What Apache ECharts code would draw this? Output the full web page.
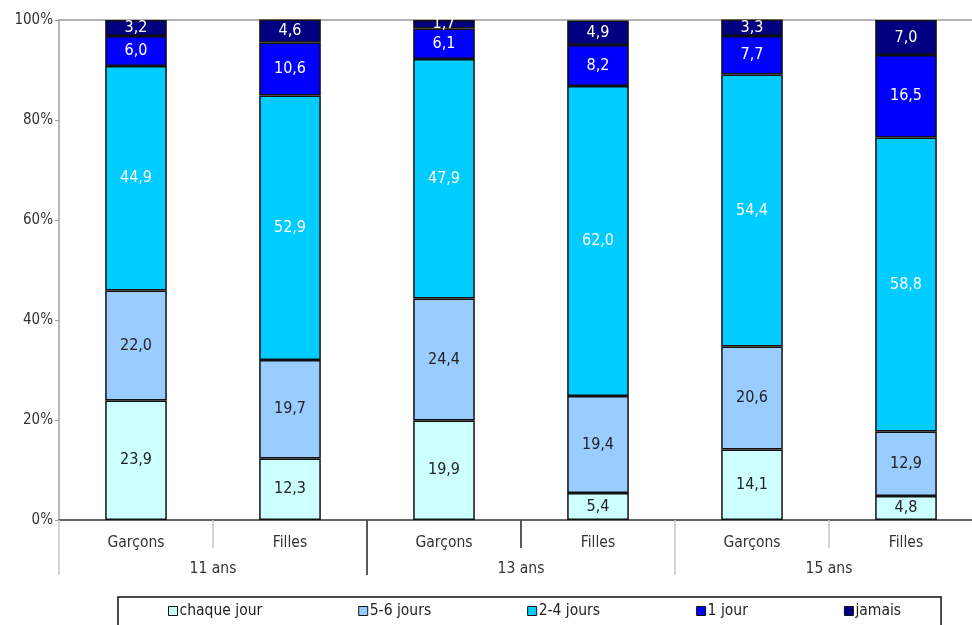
<!DOCTYPE html>
<html>
<head>
<meta charset="utf-8">
<script src="https://cdn.jsdelivr.net/npm/echarts@6/dist/echarts.min.js"></script>
<style>
  html, body { margin: 0; padding: 0; background: #fff; }
  #chart { width: 972px; height: 625px; }
</style>
</head>
<body>
<div id="chart"></div>
<script>
// ---- Data ----
const categories = ['Garçons', 'Filles', 'Garçons', 'Filles', 'Garçons', 'Filles'];
const groups = ['11 ans', '13 ans', '15 ans'];
const seriesNames = ['chaque jour', '5-6 jours', '2-4 jours', '1 jour', 'jamais'];
const chaqueJour = [23.9, 12.3, 19.9, 5.4, 14.1, 4.8];
const cinqSixJours = [22.0, 19.7, 24.4, 19.4, 20.6, 12.9];
const deuxQuatreJours = [44.9, 52.9, 47.9, 62.0, 54.4, 58.8];
const unJour = [6.0, 10.6, 6.1, 8.2, 7.7, 16.5];
const jamais = [3.2, 4.6, 1.7, 4.9, 3.3, 7.0];
const yTicks = [0, 20, 40, 60, 80, 100];

const values = [chaqueJour, cinqSixJours, deuxQuatreJours, unJour, jamais];
const colors = ['#CCFFFF', '#99CCFF', '#00CCFF', '#0000FF', '#000080'];
const labelColors = ['#222222', '#222222', '#ffffff', '#ffffff', '#ffffff'];
const FONT = "'DejaVu Sans Condensed', 'Liberation Sans Narrow', 'Arial Narrow', sans-serif";

// helper axis (divider lines only) spans one extra band beyond the chart
const dividerCats = categories.concat(['']);

const chart = echarts.init(document.getElementById('chart'), null, { renderer: 'canvas' });

const series = seriesNames.map((name, i) => ({
  name: name,
  type: 'bar',
  stack: 'total',
  xAxisIndex: 0,
  yAxisIndex: 0,
  barWidth: '40%',
  data: values[i],
  itemStyle: { color: colors[i], borderColor: '#111', borderWidth: 1.5 },
  label: {
    show: true,
    position: 'inside',
    color: labelColors[i],
    fontFamily: FONT,
    fontSize: 16,
    formatter: p => p.value.toFixed(1).replace('.', ',')
  },
  emphasis: { disabled: true },
  animation: false
}));

const LIGHT = '#c8c8c8';
const DARK = '#333333';

const option = {
  animation: false,
  textStyle: { fontFamily: FONT },
  grid: [
    { left: 59, top: 20, width: 924, height: 500, containLabel: false, outerBoundsMode: 'none' },
    { left: 59, top: 20, width: 1078, height: 500, containLabel: false, outerBoundsMode: 'none' }
  ],
  legend: {
    data: seriesNames,
    left: 118,
    top: 597,
    padding: [6, 40, 30, 50],
    itemGap: 96,
    itemWidth: 9,
    itemHeight: 9,
    icon: 'rect',
    borderColor: '#111',
    borderWidth: 1.5,
    backgroundColor: '#fff',
    itemStyle: { borderColor: '#111', borderWidth: 1 },
    textStyle: { fontFamily: FONT, fontSize: 15.5, color: '#222', padding: [0, 0, 0, -3] }
  },
  xAxis: [
    {
      gridIndex: 0,
      type: 'category',
      position: 'bottom',
      data: categories,
      axisLine: { show: true, lineStyle: { color: DARK, width: 1.5 } },
      axisTick: { show: true, interval: 0, length: 28, lineStyle: { color: LIGHT, width: 1.5 } },
      axisLabel: { interval: 0, margin: 15, color: '#333', fontSize: 15.5, fontFamily: FONT },
      splitLine: { show: false }
    },
    {
      gridIndex: 0,
      type: 'category',
      position: 'bottom',
      data: groups,
      axisLine: { show: false },
      axisTick: { show: true, interval: 0, length: 55, lineStyle: { color: LIGHT, width: 1.5 } },
      axisLabel: { interval: 0, margin: 41, color: '#333', fontSize: 15.5, fontFamily: FONT },
      splitLine: { show: false }
    },
    {
      gridIndex: 0,
      type: 'category',
      position: 'top',
      data: categories,
      axisLine: { show: true, lineStyle: { color: '#9a9a9a', width: 1.5 } },
      axisTick: { show: false },
      axisLabel: { show: false },
      splitLine: { show: false }
    },
    {
      gridIndex: 1,
      type: 'category',
      position: 'bottom',
      data: dividerCats,
      axisLine: { show: false },
      axisTick: { show: true, interval: (idx) => idx === 2 || idx === 6, length: 55, lineStyle: { color: DARK, width: 1.5 } },
      axisLabel: { show: false },
      splitLine: { show: false }
    },
    {
      gridIndex: 1,
      type: 'category',
      position: 'bottom',
      data: dividerCats,
      axisLine: { show: false },
      axisTick: { show: true, interval: (idx) => idx === 3 || idx === 6, length: 28, lineStyle: { color: DARK, width: 1.5 } },
      axisLabel: { show: false },
      splitLine: { show: false }
    }
  ],
  yAxis: [
    {
      gridIndex: 0,
      type: 'value',
      min: yTicks[0],
      max: yTicks[yTicks.length - 1],
      interval: yTicks[1] - yTicks[0],
      axisLine: { show: true, lineStyle: { color: '#a0a0a0', width: 1.5 } },
      axisTick: { show: true, length: 4, lineStyle: { color: '#a0a0a0' } },
      axisLabel: { formatter: '{value}%', color: '#333', fontSize: 15, fontFamily: FONT, margin: 6 },
      splitLine: { show: false }
    },
    {
      gridIndex: 1,
      type: 'value',
      min: 0,
      max: 100,
      show: false
    }
  ],
  series: series
};

chart.setOption(option);
</script>
</body>
</html>
